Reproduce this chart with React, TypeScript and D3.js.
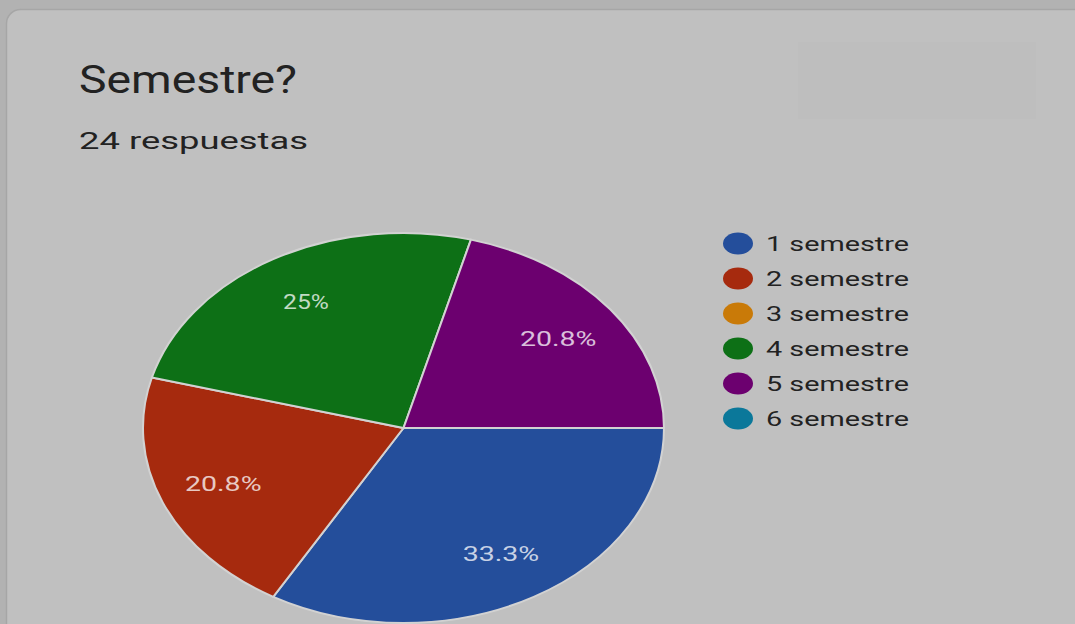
import React from "react";
import * as d3 from "d3";

const title = "Semestre?";
const subtitle = "24 respuestas";
const categories = ["1 semestre", "2 semestre", "3 semestre", "4 semestre", "5 semestre", "6 semestre"];
const counts = [8, 5, 0, 6, 5, 0];
const colors = ["#244e9b", "#a62a0e", "#c97a08", "#0d7016", "#6c006f", "#0b789a"];

const W = 1075;
const H = 624;
const cx = 403.5;
const cy = 428;
const R = 195; // vertical radius
const kx = 260.5 / 195; // horizontal stretch of the screenshot

export default function App() {
  const total = d3.sum(counts);
  const pie = d3
    .pie<number>()
    .sort(null)
    .value((d) => d)
    .startAngle(Math.PI / 2)
    .endAngle(Math.PI / 2 + 2 * Math.PI);
  const arcs = pie(counts);
  const arc = d3.arc<d3.PieArcDatum<number>>().innerRadius(0).outerRadius(R);
  const labelR = 146;
  const fmt = (v: number) => {
    const p = (v / total) * 100;
    return (Math.round(p * 10) / 10).toString() + "%";
  };

  const legendY = d3.scaleBand<string>().domain(categories).range([226, 436]);

  return (
    <svg
      width={W}
      height={H}
      style={{ position: "fixed", left: 0, top: 0, display: "block" }}
      fontFamily="Roboto, 'Noto Sans', sans-serif"
    >
      <rect x={0} y={0} width={W} height={H} fill="#b2b2b2" />
      <rect x={6.5} y={9.5} width={W + 20} height={H + 20} rx={14} fill="#c0c0c0" stroke="#a6a6a6" strokeWidth={1.5} />
      <rect x={798} y={42} width={238} height={77} fill="#bebebe" />

      <text x={79} y={93} fontSize={38} fill="#222" textLength={218} lengthAdjust="spacingAndGlyphs">
        {title}
      </text>
      <text x={79} y={149} fontSize={23.5} fill="#222" textLength={229} lengthAdjust="spacingAndGlyphs">
        {subtitle}
      </text>

      <g transform={`translate(${cx},${cy}) scale(${kx},1)`}>
        {arcs
          .filter((a) => a.value > 0)
          .map((a) => (
            <path
              key={a.index}
              d={arc(a) || ""}
              fill={colors[a.index]}
              stroke="#d2d2d2"
              strokeWidth={2}
              vectorEffect="non-scaling-stroke"
            />
          ))}
      </g>
      {arcs
        .filter((a) => a.value > 0)
        .map((a) => {
          const mid = (a.startAngle + a.endAngle) / 2;
          const x = cx + kx * labelR * Math.sin(mid);
          const y = cy - labelR * Math.cos(mid);
          const txt = fmt(a.value);
          return (
            <text
              key={"l" + a.index}
              x={x}
              y={y + 7}
              textAnchor="middle"
              fontSize={21}
              fill="#ffffff"
              fillOpacity={0.75}
              textLength={txt.length * 15.3}
              lengthAdjust="spacingAndGlyphs"
            >
              {txt}
            </text>
          );
        })}

      {categories.map((c, i) => {
        const y = (legendY(c) || 0) + legendY.bandwidth() / 2;
        return (
          <g key={c}>
            <ellipse cx={738} cy={y} rx={15} ry={11} fill={colors[i]} />
            <text x={766} y={y + 7.5} fontSize={21} fill="#222" textLength={143} lengthAdjust="spacingAndGlyphs">
              {c}
            </text>
          </g>
        );
      })}
    </svg>
  );
}
